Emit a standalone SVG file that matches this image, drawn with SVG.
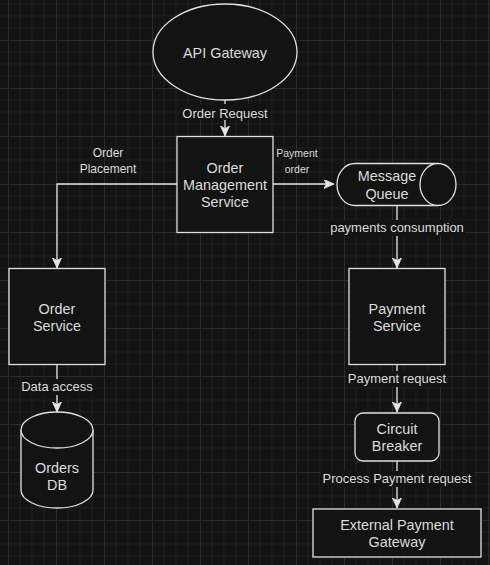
<svg xmlns="http://www.w3.org/2000/svg" width="490" height="565" viewBox="0 0 490 565">
<defs>
<pattern id="grid" x="8" y="40" width="48" height="48" patternUnits="userSpaceOnUse">
<path d="M12,0V48M24,0V48M36,0V48M0,12H48M0,24H48M0,36H48" stroke="#1d1d1d" stroke-width="1" fill="none"/>
<path d="M0.5,0V48M0,0.5H48" stroke="#2c2c2c" stroke-width="1" fill="none"/>
</pattern>
<marker id="arr" markerWidth="11" markerHeight="10" refX="10" refY="4.5" orient="auto" markerUnits="userSpaceOnUse">
<path d="M0,0 L10,4.5 L0,9 L2.5,4.5 Z" fill="#e6e6e6" stroke="#e6e6e6" stroke-width="0.8"/>
</marker>
<style>
.shape{fill:#131313;stroke:#e0e0e0;stroke-width:1.3}
.node{font-family:"Liberation Sans",Arial,sans-serif;font-size:14.4px;fill:#dcdcdc;text-anchor:middle}
.lbl{font-family:"Liberation Sans",Arial,sans-serif;font-size:13px;fill:#dcdcdc;text-anchor:middle}
.edge{fill:none;stroke:#e6e6e6;stroke-width:1.3}
.lblbg{fill:#131313}
</style>
</defs>
<rect width="490" height="565" fill="#131313"/>
<rect width="490" height="565" fill="url(#grid)"/>

<g id="connectors">
<path class="edge" d="M225,100V136" marker-end="url(#arr)"/>
<rect class="lblbg" x="181" y="104" width="88" height="16"/>
<text class="lbl" x="225" y="117.5">Order Request</text>

<path class="edge" d="M177,184H57V268" marker-end="url(#arr)"/>
<text class="lbl" x="108" y="157" style="font-size:12px">Order</text>
<text class="lbl" x="108" y="172.7" style="font-size:12px">Placement</text>

<path class="edge" d="M273,184H334" marker-end="url(#arr)"/>
<text class="lbl" x="297" y="157" style="font-size:10.5px">Payment</text>
<text class="lbl" x="297" y="172.7" style="font-size:10.5px">order</text>

<path class="edge" d="M397,205.5V268" marker-end="url(#arr)"/>
<rect class="lblbg" x="329" y="220" width="136" height="16"/>
<text class="lbl" x="397" y="232.3">payments consumption</text>

<path class="edge" d="M57,365V412" marker-end="url(#arr)"/>
<rect class="lblbg" x="21" y="379" width="72" height="16"/>
<text class="lbl" x="57" y="391.3">Data access</text>

<path class="edge" d="M397,365V412" marker-end="url(#arr)"/>
<rect class="lblbg" x="346" y="371" width="102" height="16"/>
<text class="lbl" x="397" y="383">Payment request</text>

<path class="edge" d="M397,461V508" marker-end="url(#arr)"/>
<rect class="lblbg" x="320" y="471" width="154" height="16"/>
<text class="lbl" x="397" y="483">Process Payment request</text>
</g>

<g id="api-gateway">
<ellipse class="shape" cx="225" cy="52" rx="72" ry="48"/>
<text class="node" x="225" y="57.5">API Gateway</text>
</g>

<g id="order-management-service">
<rect class="shape" x="177" y="136.5" width="96" height="96"/>
<text class="node" x="225" y="172.5">Order</text>
<text class="node" x="225" y="189.5">Management</text>
<text class="node" x="225" y="207">Service</text>
</g>

<g id="message-queue">
<path class="shape" d="M355,163.5H438A18,21 0 0 1 438,205.5H355A18,21 0 0 1 355,163.5Z"/>
<path class="shape" d="M438,163.5A18,21 0 0 0 438,205.5" fill="none"/>
<text class="node" x="387" y="181">Message</text>
<text class="node" x="387" y="198.5">Queue</text>
</g>

<g id="order-service">
<rect class="shape" x="9" y="268.5" width="96" height="96"/>
<text class="node" x="57" y="313.5">Order</text>
<text class="node" x="57" y="331">Service</text>
</g>

<g id="orders-db">
<path class="shape" d="M21,430A36,18 0 0 1 93,430V490A36,18 0 0 1 21,490Z"/>
<path class="shape" d="M21,430A36,18 0 0 0 93,430" fill="none"/>
<text class="node" x="57" y="472.5">Orders</text>
<text class="node" x="57" y="490">DB</text>
</g>

<g id="payment-service">
<rect class="shape" x="349" y="268.5" width="96" height="96"/>
<text class="node" x="397" y="313.5">Payment</text>
<text class="node" x="397" y="331">Service</text>
</g>

<g id="circuit-breaker">
<rect class="shape" x="355" y="413" width="84" height="48" rx="8" ry="8"/>
<text class="node" x="397" y="433.5">Circuit</text>
<text class="node" x="397" y="451">Breaker</text>
</g>

<g id="external-payment-gateway">
<rect class="shape" x="313" y="509" width="168" height="48"/>
<text class="node" x="397" y="529.5">External Payment</text>
<text class="node" x="397" y="547">Gateway</text>
</g>
</svg>
